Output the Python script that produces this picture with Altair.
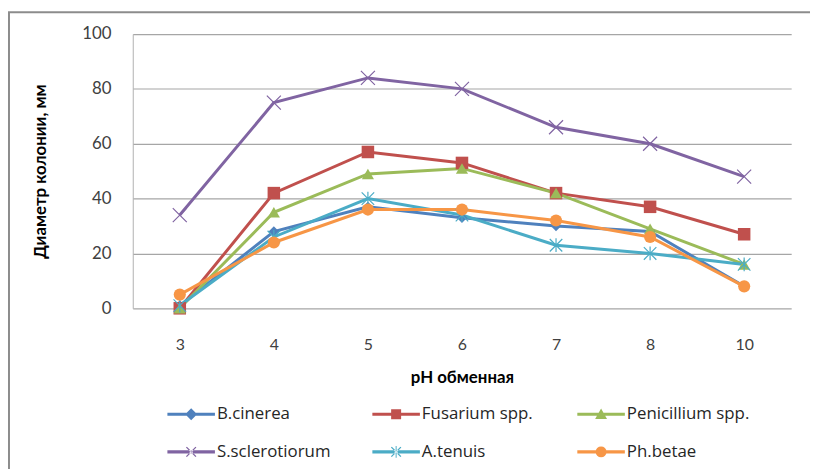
import altair as alt
import pandas as pd

ph = ["3", "4", "5", "6", "7", "8", "10"]
series_names = ["B.cinerea", "Fusarium spp.", "Penicillium spp.", "S.sclerotiorum", "A.tenuis", "Ph.betae"]
b_cinerea = [1, 28, 37, 33, 30, 28, 8]
fusarium = [0, 42, 57, 53, 42, 37, 27]
penicillium = [0, 35, 49, 51, 42, 29, 16]
s_sclerotiorum = [34, 75, 84, 80, 66, 60, 48]
a_tenuis = [1, 26, 40, 34, 23, 20, 16]
ph_betae = [5, 24, 36, 36, 32, 26, 8]
colors = ["#4F81BD", "#C0504D", "#9BBB59", "#8064A2", "#4BACC6", "#F79646"]

values = [b_cinerea, fusarium, penicillium, s_sclerotiorum, a_tenuis, ph_betae]
rows = []
for name, vals in zip(series_names, values):
    for p, v in zip(ph, vals):
        rows.append({"series": name, "ph": p, "value": v})
df = pd.DataFrame(rows)

FONT = "Lato"
LEGEND_FONT = "Open Sans"
color_scale = alt.Scale(domain=series_names, range=colors)
x_enc = alt.X("ph:N", sort=ph, scale=alt.Scale(type="point", padding=0.5),
              axis=alt.Axis(title="pH обменная", labelAngle=0, labelFontSize=16, labelColor="#404040",
                            labelPadding=29, ticks=False, domain=False, grid=False,
                            titleFontSize=17, titleFontWeight="bold", titleColor="#000000",
                            titlePadding=17, labelFont=FONT, titleFont=FONT))
y_enc = alt.Y("value:Q", scale=alt.Scale(domain=[0, 100]),
              axis=alt.Axis(title="Диаметр колонии, мм", values=[0, 20, 40, 60, 80, 100],
                            labelFontSize=17, labelColor="#404040", labelPadding=22,
                            ticks=False, domain=True, domainColor="#b0b0b0", domainWidth=1,
                            gridColor="#a6a6a6", gridWidth=1.2,
                            titleFontSize=17, titleFontWeight="bold", titleColor="#000000",
                            titlePadding=33, labelFont=FONT, titleFont=FONT))

base = alt.Chart(df)
lines = base.mark_line(strokeWidth=3).encode(
    x=x_enc, y=y_enc,
    color=alt.Color("series:N", scale=color_scale, legend=None),
    detail="series:N",
)

marker_specs = {
    "B.cinerea": dict(shape="diamond", size=110, filled=True),
    "Fusarium spp.": dict(shape="square", size=160, filled=True),
    "Penicillium spp.": dict(shape="triangle-up", size=150, filled=True),
    "S.sclerotiorum": dict(shape="M-1,-1L1,1M-1,1L1,-1", size=200, filled=False, strokeWidth=1.2),
    "A.tenuis": dict(shape="M-1,-1L1,1M-1,1L1,-1M0,-1.1L0,1.1", size=160, filled=False, strokeWidth=1.2),
    "Ph.betae": dict(shape="circle", size=150, filled=True),
}
point_layers = []
for name in series_names:
    spec = marker_specs[name]
    point_layers.append(
        base.transform_filter(alt.datum.series == name).mark_point(opacity=1, **spec).encode(
            x=alt.X("ph:N", sort=ph), y=alt.Y("value:Q"),
            color=alt.Color("series:N", scale=color_scale, legend=None),
        )
    )

line_seg = "M-1,-0.065L1,-0.065L1,0.065L-1,0.065Z"
circle_poly = ("M0.23,0L0.213,0.088L0.163,0.163L0.088,0.213L0,0.23L-0.088,0.213L-0.163,0.163L-0.213,0.088"
               "L-0.23,0L-0.213,-0.088L-0.163,-0.163L-0.088,-0.213L0,-0.23L0.088,-0.213L0.163,-0.163L0.213,-0.088Z")
xband = ("M-0.22,-0.18L0.18,0.22L0.22,0.18L-0.18,-0.22Z"
         "M-0.22,0.18L-0.18,0.22L0.22,-0.18L0.18,-0.22Z")
legend_paths = [
    line_seg + "M0,-0.25L0.25,0L0,0.25L-0.25,0Z",
    line_seg + "M-0.21,-0.21L0.21,-0.21L0.21,0.21L-0.21,0.21Z",
    line_seg + "M0,-0.24L0.25,0.2L-0.25,0.2Z",
    line_seg + xband,
    line_seg + xband + "M-0.02,-0.25L0.02,-0.25L0.02,0.25L-0.02,0.25Z",
    line_seg + circle_poly,
]
leg = alt.Legend(title=None, orient="none", legendX=35, legendY=360, columns=3,
                 direction="horizontal", symbolSize=2304, symbolStrokeWidth=0, symbolOpacity=1,
                 labelFontSize=17, labelFont=LEGEND_FONT, labelColor="#262626", labelOffset=2,
                 gridAlign="all", columnPadding=33, rowPadding=6, padding=0)
legend_layer = base.mark_point(filled=True, opacity=0).encode(
    x=alt.X("ph:N", sort=ph), y=alt.Y("value:Q"),
    color=alt.Color("series:N", scale=color_scale, legend=leg),
    shape=alt.Shape("series:N", scale=alt.Scale(domain=series_names, range=legend_paths), legend=leg),
)

frame_df = pd.DataFrame({"k": [0]})
frame_top = alt.Chart(frame_df).mark_rule(color="#8c8c8c", strokeWidth=2).encode(
    x=alt.value(-126), x2=alt.value(700), y=alt.value(-22))
frame_left = alt.Chart(frame_df).mark_rule(color="#8c8c8c", strokeWidth=2).encode(
    x=alt.value(-125), x2=alt.value(-125), y=alt.value(-22), y2=alt.value(480))

chart = alt.layer(frame_top, frame_left, lines, *point_layers, legend_layer).resolve_legend(
    color="independent", shape="independent"
).properties(
    width=665, height=277,
    autosize=alt.AutoSizeParams(type="none"),
    padding={"left": 126, "top": 24, "right": 19, "bottom": 160},
    background="white",
).configure_view(stroke=None)

chart.save("out.html", embed_options={"renderer": "svg", "actions": False})
